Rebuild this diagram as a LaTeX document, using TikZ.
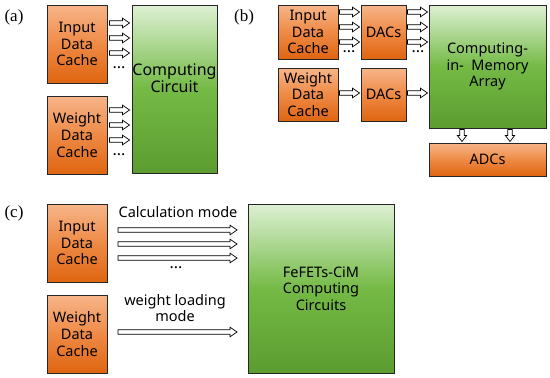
\documentclass[tikz,border=0pt]{standalone}
\usepackage{fontspec}
\setmainfont{Liberation Serif}
\newfontfamily\boxfont{Noto Sans}
\usetikzlibrary{calc}
\definecolor{orT}{HTML}{F7B58A}
\definecolor{orM}{HTML}{EE8A45}
\definecolor{orB}{HTML}{DF6511}
\definecolor{grT}{HTML}{DDF0D3}
\definecolor{grM}{HTML}{74BA45}
\definecolor{grB}{HTML}{5C9C30}
\begin{document}
\begin{tikzpicture}[x=1pt,y=-1pt,
  box/.style={draw=black!85, line width=0.9pt, align=center, inner sep=0pt,
    font=\boxfont\fontsize{14.5}{16.7}\selectfont},
  obox/.style={box, top color=orT, bottom color=orB, middle color=orM},
  gbox/.style={box, top color=grT, bottom color=grB, middle color=grM},
  plabel/.style={font=\fontsize{17}{20}\selectfont, inner sep=0pt},
  ctext/.style={font=\boxfont\fontsize{14.5}{16.7}\selectfont, align=center, inner sep=0pt},
  dotsn/.style={font=\boxfont\bfseries\fontsize{16}{16}\selectfont, inner sep=0pt},
  harrow/.style={draw=black, fill=white, line width=0.7pt,
    to path={let \p1=(\tikztostart), \p2=(\tikztotarget) in
      (\x1+#1,\y1+2.2pt) -- (\x2-#1-7pt,\y1+2.2pt) -- (\x2-#1-7pt,\y1+4.8pt) --
      (\x2-#1,\y1) -- (\x2-#1-7pt,\y1-4.8pt) -- (\x2-#1-7pt,\y1-2.2pt) --
      (\x1+#1,\y1-2.2pt) -- cycle}},
  harrow/.default=2pt,
  varrow/.style={draw=black, fill=white, line width=0.7pt,
    to path={let \p1=(\tikztostart), \p2=(\tikztotarget) in
      (\x1-2.2pt,\y1-#1) -- (\x1-2.2pt,\y2+#1+6pt) -- (\x1-4.6pt,\y2+#1+6pt) --
      (\x1,\y2+#1) -- (\x1+4.6pt,\y2+#1+6pt) -- (\x1+2.2pt,\y2+#1+6pt) --
      (\x1+2.2pt,\y1-#1) -- cycle}},
  varrow/.default=1pt
]
\useasboundingbox (0,0) rectangle (550,378);

% ---------- (a) ----------
\node[plabel] (la) at (14,17) {(a)};
\node[obox, minimum width=60pt, minimum height=78pt] (aIn) at (77,44) {Input\\Data\\Cache};
\node[obox, minimum width=60pt, minimum height=78pt] (aW) at (77,135) {Weight\\Data\\Cache};
\node[gbox, minimum width=85pt, minimum height=168pt] (aC) at (174.5,89) {};
\node[ctext, font=\boxfont\fontsize{16}{17}\selectfont] (aCt) at ([yshift=11pt]aC.center) {Computing\\Circuit};
\foreach \yy in {23,38,53}{\path[harrow] (aIn.east |- 0,\yy) to (aC.west |- 0,\yy);}
\foreach \yy in {110,125,140}{\path[harrow] (aW.east |- 0,\yy) to (aC.west |- 0,\yy);}
\node[dotsn] (ad1) at (119,68) {...};
\node[dotsn] (ad2) at (119,155) {...};

% ---------- (b) ----------
\node[plabel] (lb) at (244,17) {(b)};
\node[obox, minimum width=60pt, minimum height=54pt] (bIn) at (308,32) {Input\\Data\\Cache};
\node[obox, minimum width=60pt, minimum height=53pt] (bW) at (308,94.5) {Weight\\Data\\Cache};
\node[obox, minimum width=45pt, minimum height=54pt] (bD1) at (383.5,32) {DACs};
\node[obox, minimum width=45pt, minimum height=53pt] (bD2) at (383.5,94.5) {DACs};
\node[gbox, minimum width=117pt, minimum height=123pt] (bM) at (487.5,66.5) {Computing-\\in-\ \ Memory\\Array};
\node[obox, minimum width=117pt, minimum height=33pt] (bA) at (487.5,159.5) {ADCs};
\foreach \yy in {12,27,42}{
  \path[harrow=1pt] (bIn.east |- 0,\yy) to (bD1.west |- 0,\yy);
  \path[harrow=1pt] (bD1.east |- 0,\yy) to (bM.west |- 0,\yy);}
\path[harrow=1pt] (bW.east |- 0,93) to (bD2.west |- 0,93);
\path[harrow=1pt] (bD2.east |- 0,93) to (bM.west |- 0,93);
\node[dotsn] (bd1) at (349,52) {...};
\node[dotsn] (bd2) at (418,52) {...};
\path[varrow] (bM.south -| 462,0) to (bA.north -| 462,0);
\path[varrow] (bM.south -| 510,0) to (bA.north -| 510,0);

% ---------- (c) ----------
\node[plabel] (lc) at (14,213) {(c)};
\node[obox, minimum width=60pt, minimum height=78pt] (cIn) at (77,243) {Input\\Data\\Cache};
\node[obox, minimum width=60pt, minimum height=78pt] (cW) at (77,334) {Weight\\Data\\Cache};
\node[gbox, minimum width=146pt, minimum height=169pt] (cC) at (321,288.5) {FeFETs-CiM\\Computing\\Circuits};
\foreach \yy in {230,244,258}{\path[harrow=10.5pt] (cIn.east |- 0,\yy) to (cC.west |- 0,\yy);}
\path[harrow=10.5pt] (cW.east |- 0,332) to (cC.west |- 0,332);
\node[ctext] (cm) at (178,212) {Calculation mode};
\node[ctext] (wm) at (175,308) {weight loading\\mode};
\node[dotsn] (cd) at (176,268) {...};
\end{tikzpicture}
\end{document}
